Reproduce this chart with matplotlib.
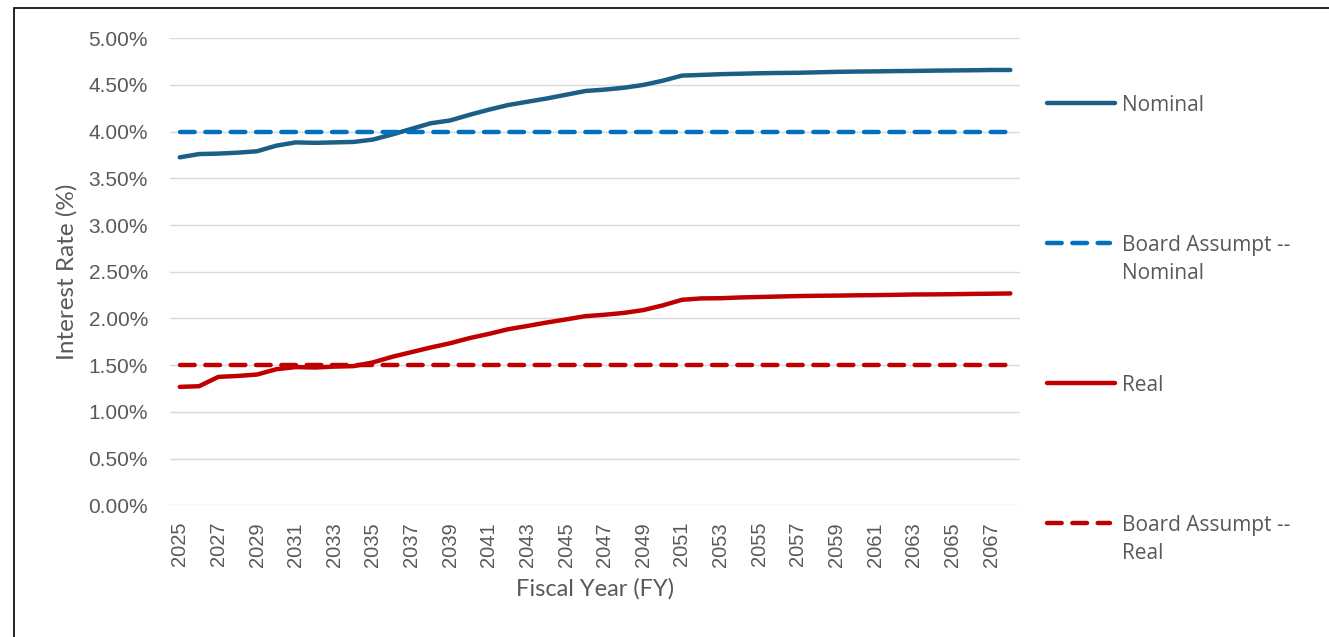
import numpy as np
import matplotlib.pyplot as plt
from matplotlib.lines import Line2D
from matplotlib.patches import Rectangle

years = np.arange(2025, 2069)

nominal = [3.725, 3.76, 3.765, 3.775, 3.79, 3.85, 3.885, 3.88, 3.885, 3.89,
           3.915, 3.97, 4.03, 4.09, 4.12, 4.18, 4.235, 4.285, 4.32, 4.355,
           4.395, 4.435, 4.45, 4.47, 4.50, 4.545, 4.60, 4.607, 4.615, 4.62,
           4.625, 4.628, 4.63, 4.635, 4.64, 4.643, 4.645, 4.648, 4.65, 4.653,
           4.655, 4.657, 4.66, 4.66]
real = [1.268, 1.275, 1.375, 1.385, 1.40, 1.457, 1.48, 1.475, 1.485, 1.49,
        1.53, 1.59, 1.64, 1.69, 1.735, 1.79, 1.835, 1.885, 1.92, 1.957,
        1.99, 2.025, 2.04, 2.06, 2.09, 2.14, 2.20, 2.215, 2.217, 2.225,
        2.23, 2.235, 2.24, 2.243, 2.245, 2.248, 2.25, 2.253, 2.257, 2.258,
        2.26, 2.263, 2.265, 2.268]
board_nominal = [4.0] * len(years)
board_real = [1.5] * len(years)

labels = ["Nominal", "Board Assumpt --\nNominal", "Real", "Board Assumpt --\nReal"]
colors = ["#1B5F86", "#0070C0", "#C00000", "#C00000"]
styles = ["solid", "dashed", "solid", "dashed"]
series = [nominal, board_nominal, real, board_real]

gray = "#595959"
arial = ["Liberation Sans", "DejaVu Sans"]
label_font = ["Lato", "DejaVu Sans"]

fig = plt.figure(figsize=(13.29, 6.37), dpi=100)
ax = fig.add_axes([0.128, 0.2067, 0.6395, 0.7333])

dash = (3.3, 2.4)
for vals, c, s in zip(series, colors, styles):
    kw = dict(color=c, lw=3.2, solid_capstyle="round", dash_capstyle="round")
    if s == "dashed":
        ax.plot(years, vals, dashes=dash, **kw)
    else:
        ax.plot(years, vals, **kw)

ax.set_xlim(2024.5, 2068.5)
ax.set_ylim(0, 5)
ax.set_yticks(np.arange(0, 5.01, 0.5))
ax.set_yticklabels([f"{v:.2f}%" for v in np.arange(0, 5.01, 0.5)],
                   fontsize=15, color=gray, family=arial)
ax.set_xticks(years[::2])
ax.set_xticklabels([str(y) for y in years[::2]], rotation=90,
                   fontsize=14.5, color=gray, family=arial)
ax.tick_params(axis="y", length=0, pad=16)
ax.tick_params(axis="x", length=0, pad=12)
ax.grid(axis="y", color="#D9D9D9", lw=1)
ax.set_axisbelow(True)
for sp in ax.spines.values():
    sp.set_visible(False)

ax.set_xlabel("Fiscal Year (FY)", fontsize=17, color=gray, family=label_font, labelpad=8)
ax.set_ylabel("Interest Rate (%)", fontsize=17.5, color=gray, family=label_font, labelpad=8)

# legend drawn by hand down the right side
W, H = 1329, 637
ys = [103, 243, 383, 523]
for y, lab, c, s in zip(ys, labels, colors, styles):
    yf = 1 - y / H
    x1 = 1115 if s == "solid" else 1110
    ln = Line2D([1047 / W, x1 / W], [yf, yf], transform=fig.transFigure,
                color=c, lw=3.2, solid_capstyle="round", dash_capstyle="round")
    if s == "dashed":
        ln.set_dashes(dash)
    fig.add_artist(ln)
    fig.text(1122 / W, yf + 8 / H, lab, fontsize=15, color=gray, va="top",
             ha="left", family=["Open Sans", "DejaVu Sans"], linespacing=1.45)

# outer frame
fig.add_artist(Rectangle((14 / W, -0.05), 1.2, 1 - 8 / H + 0.05,
                         transform=fig.transFigure, fill=False,
                         edgecolor="black", lw=1.2))

fig.savefig("out.png", dpi=100)
